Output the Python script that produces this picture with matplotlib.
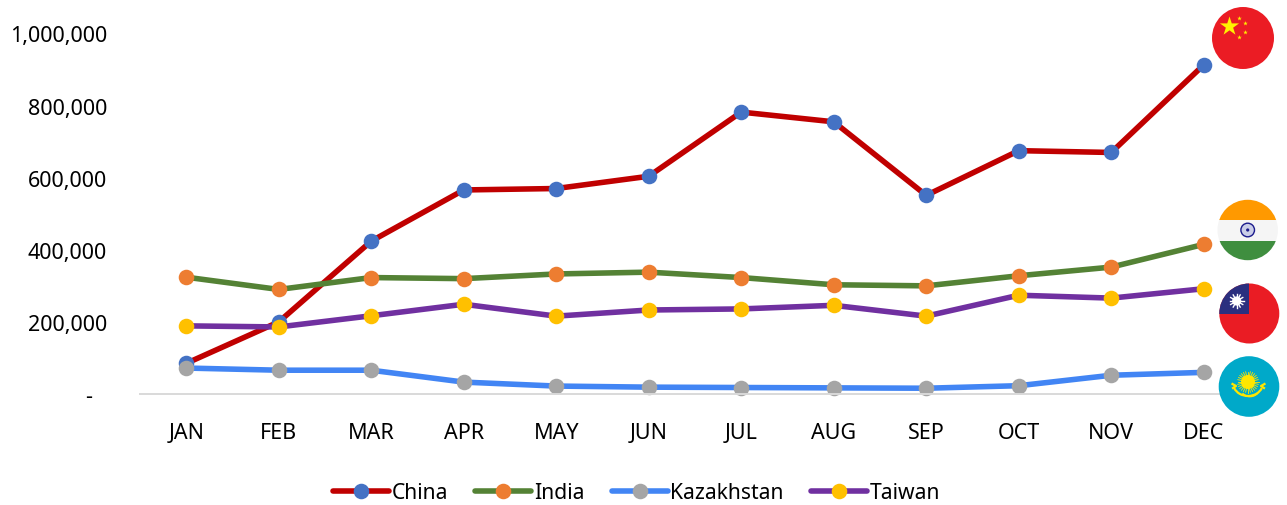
import numpy as np
import matplotlib
matplotlib.use("Agg")
import matplotlib.pyplot as plt
from matplotlib.patches import Circle, Rectangle, Arc
from matplotlib.ticker import FixedLocator

months = ["JAN","FEB","MAR","APR","MAY","JUN","JUL","AUG","SEP","OCT","NOV","DEC"]
china = [85000,200000,424000,566000,570000,604000,782000,755000,551000,675000,670000,913000]
india = [324000,290000,323000,320000,333000,338000,323000,303000,300000,328000,352000,415000]
kazakhstan = [72000,66000,66000,33000,22000,19000,18000,17000,16000,23000,52000,60000]
taiwan = [189000,186000,217000,249000,216000,233000,236000,246000,216000,274000,266000,292000]
y_ticks = [0,200000,400000,600000,800000,1000000]
y_labels = ["","200,000","400,000","600,000","800,000","1,000,000"]

plt.rcParams['font.family'] = ['Noto Sans','DejaVu Sans']
W,H = 1287,506
fig = plt.figure(figsize=(W/100,H/100),dpi=100)
ax = fig.add_axes([140/W,1-395/H,1110/W,360.5/H])
x = np.arange(12)
series = [("China",china,"#C00000","#4472C4"),("India",india,"#548235","#ED7D31"),
          ("Kazakhstan",kazakhstan,"#4285F4","#A5A5A5"),("Taiwan",taiwan,"#7030A0","#FFC000")]
for name,vals,lc,mc in series:
    ax.plot(x,vals,color=lc,lw=4.0,marker='o',ms=11.2,mfc=mc,mec=mc,mew=0,
            label=name,solid_capstyle='round',clip_on=False)
ax.set_xlim(-0.5,11.5); ax.set_ylim(0,1000000)
ax.yaxis.set_major_locator(FixedLocator(y_ticks)); ax.set_yticklabels(y_labels,fontsize=15.5,color='black')
ax.set_xticks(x); ax.set_xticklabels(months,fontsize=15.5,color='black')
ax.tick_params(axis='both',length=0)
ax.tick_params(axis='x',pad=20.5); ax.tick_params(axis='y',pad=23.6)
for s in ['top','right','left']: ax.spines[s].set_visible(False)
ax.spines['bottom'].set_color('#D9D9D9'); ax.spines['bottom'].set_linewidth(1.4)
ax.patch.set_alpha(0)
ax.annotate("-",xy=(0,0),xycoords=('axes fraction','data'),xytext=(-48,-2),textcoords='offset pixels',
            ha='right',va='center',fontsize=15.5,color='black')
leg = fig.legend(loc='center',bbox_to_anchor=(636.5/W,1-494/H),ncol=4,frameon=False,fontsize=15.2,
                 handlelength=2.65,handletextpad=0.12,columnspacing=1.3,borderpad=0,numpoints=1)

# flags drawn in a pixel-space overlay
ov = fig.add_axes([0,0,1,1]); ov.set_xlim(0,W); ov.set_ylim(H,0); ov.axis('off'); ov.patch.set_alpha(0)

def disc(cx,cy,r,col):
    c = Circle((cx,cy),r,fc=col,ec='none',zorder=1); ov.add_patch(c); return c

# China
disc(1243,39,31,"#EB1C24")
ov.scatter([1229],[27],marker='*',s=210,c="#FFF200",linewidths=0,zorder=2)
ov.scatter([1238.7,1245,1245,1238.7],[19,24,32.7,37.7],marker='*',s=12,c="#FFF200",linewidths=0,zorder=2)

# India
c = disc(1247.7,231,30.2,"#F5F5F5")
for y0,h,col in [(195,25.5,"#FF9900"),(241.5,30,"#3F8E3F")]:
    r = Rectangle((1210,y0),80,h,fc=col,ec='none',zorder=2); ov.add_patch(r); r.set_clip_path(c)
ov.add_patch(Circle((1247.7,231),6.8,fc="#C9CDE8",ec="#1A1A8C",lw=1.0,zorder=3))
ov.add_patch(Circle((1247.7,231),1.6,fc="#1A1A8C",ec='none',zorder=4))

# Taiwan
c = disc(1249.3,314.5,30,"#EA1C24")
r = Rectangle((1215,280),34.3,34.5,fc="#2B2F7F",ec='none',zorder=2); ov.add_patch(r); r.set_clip_path(c)
for a in np.linspace(0,2*np.pi,12,endpoint=False):
    ov.plot([1236.7,1236.7+7*np.cos(a)],[302,302+7*np.sin(a)],color='white',lw=1.0,zorder=3)
ov.add_patch(Circle((1236.7,302),4.6,fc='white',ec='none',zorder=4))

# Kazakhstan
disc(1249,387.5,30.3,"#00A9C9")
for a in np.linspace(0,2*np.pi,28,endpoint=False):
    ov.plot([1248,1248+10.5*np.cos(a)],[383,383+10.5*np.sin(a)],color="#FFE600",lw=0.6,zorder=2)
ov.add_patch(Circle((1248,383),7,fc="#FFE600",ec='none',zorder=3))
ov.add_patch(Arc((1248,384),30,26,theta1=20,theta2=160,color="#FFE600",lw=1.6,zorder=3))
ov.add_patch(Arc((1250,388),20,19,theta1=40,theta2=140,color="#FFE600",lw=1.2,zorder=3))
ov.plot([1232.5,1236,1233],[385,387,389],color="#FFE600",lw=1.6,zorder=3)
ov.plot([1264.5,1261,1264],[385,387,389],color="#FFE600",lw=1.6,zorder=3)

fig.savefig("out.png",dpi=100)
